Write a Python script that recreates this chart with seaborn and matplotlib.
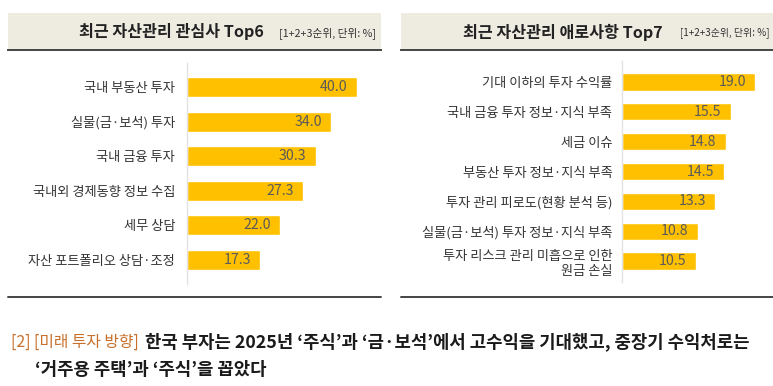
import matplotlib
matplotlib.use("Agg")
import matplotlib.pyplot as plt
import pandas as pd
import seaborn as sns

# data
interest_labels = ["국내 부동산 투자", "실물(금·보석) 투자", "국내 금융 투자",
                   "국내외 경제동향 정보 수집", "세무 상담", "자산 포트폴리오 상담·조정"]
interest_values = [40.0, 34.0, 30.3, 27.3, 22.0, 17.3]

difficulty_labels = ["기대 이하의 투자 수익률", "국내 금융 투자 정보·지식 부족", "세금 이슈",
                     "부동산 투자 정보·지식 부족", "투자 관리 피로도(현황 분석 등)",
                     "실물(금·보석) 투자 정보·지식 부족",
                     "투자 리스크 관리 미흡으로 인한\n원금 손실"]
difficulty_values = [19.0, 15.5, 14.8, 14.5, 13.3, 10.8, 10.5]

left_title = "최근 자산관리 관심사 Top6"
right_title = "최근 자산관리 애로사항 Top7"
unit_note = "[1+2+3순위, 단위: %]"
caption_tag = "[2] [미래 투자 방향]"
caption_line1 = "한국 부자는 2025년 ‘주식’과 ‘금·보석’에서 고수익을 기대했고, 중장기 수익처로는"
caption_line2 = "‘거주용 주택’과 ‘주식’을 꼽았다"

BAR_COLOR = "#FFC000"
BAND_COLOR = "#EEEBE1"
W, H = 773, 386

sns.set_style("white")
plt.rcParams["font.family"] = ["Noto Sans CJK KR", "DejaVu Sans"]

fig = plt.figure(figsize=(W / 100, H / 100), dpi=100)


def px_axes(x0, y0, x1, y1):
    # pixel box (top-left origin) -> figure axes
    return fig.add_axes([x0 / W, 1 - y1 / H, (x1 - x0) / W, (y1 - y0) / H])


def header(x0, x1, title, title_cx, note_right, note_size):
    band = px_axes(x0, 13, x1, 50)
    band.set_facecolor(BAND_COLOR)
    band.set_xticks([])
    band.set_yticks([])
    for s in ["top", "left", "right"]:
        band.spines[s].set_visible(False)
    band.spines["bottom"].set_color("#444444")
    band.spines["bottom"].set_linewidth(1.4)
    fig.text(title_cx / W, 1 - 32 / H, title, ha="center", va="center",
             fontsize=11.6, fontweight="bold", color="#222222")
    fig.text(note_right / W, 1 - 33 / H, unit_note, ha="right", va="center",
             fontsize=note_size, color="#333333")


def bottom_rule(x0, x1):
    fig.add_artist(plt.Line2D([x0 / W, x1 / W], [1 - 297 / H, 1 - 297 / H],
                              color="#444444", linewidth=1.4))


def bar_panel(ax, labels, values, xmax, nrows, pad):
    df = pd.DataFrame({"label": labels, "value": values})
    sns.barplot(data=df, x="value", y="label", orient="h", color=BAR_COLOR,
                width=0.58, ax=ax, saturation=1)
    ax.set_xlim(0, xmax)
    ax.set_ylim(nrows - 1 + 0.7, -0.7)
    ax.set_xlabel("")
    ax.set_ylabel("")
    ax.set_xticks([])
    for s in ["top", "right", "bottom"]:
        ax.spines[s].set_visible(False)
    ax.spines["left"].set_color("#E2E2E2")
    ax.spines["left"].set_linewidth(1)
    ax.tick_params(axis="y", length=0, pad=pad, labelsize=9.5, labelcolor="#333333")
    ax.set_facecolor("none")
    for i, v in enumerate(values):
        ax.annotate(f"{v:.1f}", xy=(v, i), xytext=(-6.5, 0), textcoords="offset points",
                    ha="right", va="center", fontsize=10.2, color="#5A5A5A")


header(8, 381, left_title, 171, 376, 7.7)
header(401, 773, right_title, 563, 770, 7.1)

ax1 = px_axes(187, 62.8, 378, 284.2)
bar_panel(ax1, interest_labels, interest_values, 45, len(interest_values), 8.5)

ax2 = px_axes(622, 61.1, 769, 281.9)
bar_panel(ax2, difficulty_labels, difficulty_values, 21, len(difficulty_values), 7)

bottom_rule(8, 381)
bottom_rule(401, 773)

# caption: orange tag, then the bold sentence right after it
tag = fig.text(11 / W, 1 - 342 / H, caption_tag, ha="left", va="center",
               fontsize=11.4, color="#C8702B")
fig.canvas.draw()
tag_right = tag.get_window_extent().x1
fig.text((tag_right + 6) / W, 1 - 342 / H, caption_line1, ha="left", va="center",
         fontsize=12.8, fontweight="bold", color="#1A1A1A")
fig.text(35 / W, 1 - 370 / H, caption_line2, ha="left", va="center",
         fontsize=12.8, fontweight="bold", color="#1A1A1A")

fig.savefig("out.png", dpi=100, facecolor="white")
plt.close(fig)
